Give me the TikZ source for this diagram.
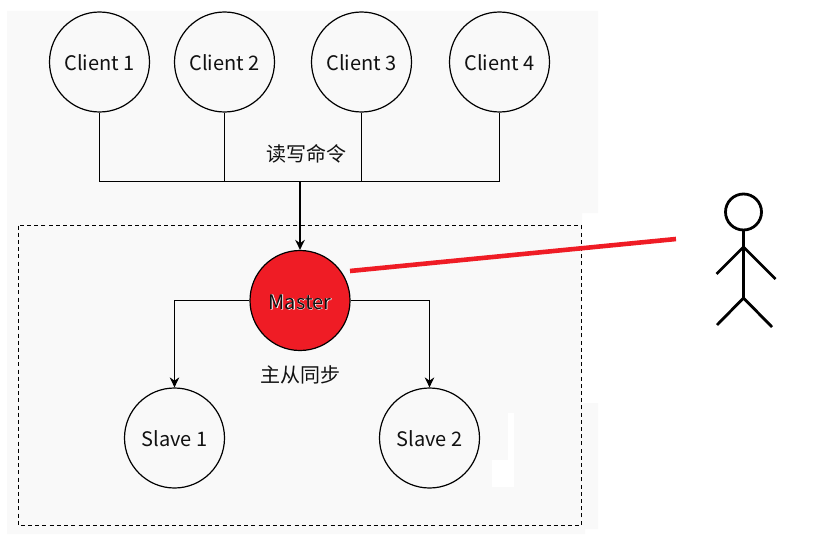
\documentclass[tikz,border=0pt]{standalone}
\usepackage{fontspec}
\setmainfont{Noto Sans CJK SC}
\newfontfamily\halofont[FakeBold=2]{Noto Sans CJK SC}
\usetikzlibrary{arrows.meta}
\definecolor{panel}{HTML}{F9F9F9}
\definecolor{redfill}{HTML}{EF1C25}
\definecolor{ink}{HTML}{111111}
\tikzset{
  x=1pt,y=-1pt,
  circ/.style={circle,draw=black,line width=1.2pt,minimum size=100pt,inner sep=0pt,text height=17.5pt,text depth=0pt,font=\fontsize{20}{24}\selectfont,text=ink,fill=panel},
  master/.style={circ,fill=redfill,text=ink},
  conn/.style={draw=black,line width=1.2pt},
  arrow/.style={conn,-{Stealth[length=10pt,width=9.5pt]}},
  thickarrow/.style={arrow,line width=1.8pt},
  lab/.style={font=\fontsize{20}{24}\selectfont,text=ink,inner sep=0pt},
  figure/.style={draw=black,line width=2.8pt},
}
\begin{document}
\begin{tikzpicture}
\useasboundingbox (0,0) rectangle (825,551);
% background panel with its irregular cut-outs
\fill[panel] (7,11) -- (598,11) -- (598,213) -- (582,213) -- (582,403) -- (598,403) -- (598,529) -- (585,529) -- (585,534) -- (7,534) -- cycle;
\fill[white] (508,413) rectangle (514,460);
\fill[white] (492,460) rectangle (514,487);
\draw[black,line width=1.2pt,dash pattern=on 4pt off 3.2pt] (18.5,225.5) rectangle (581.5,525.5);
% nodes
\node[circ] (c1) at (99.5,62) {Client 1};
\node[circ] (c2) at (224.5,62) {Client 2};
\node[circ] (c3) at (361.5,62) {Client 3};
\node[circ] (c4) at (499.5,62) {Client 4};
\node[master] (m) at (300,300.5) {\rlap{\color{white}\halofont Master}Master};
\node[circ] (s1) at (174.5,438) {Slave 1};
\node[circ] (s2) at (429.5,438) {Slave 2};
\node[lab] (l1) at (306,154) {读写命令};
\node[lab] (l2) at (300,375) {主从同步};
\coordinate (bus) at (300,181.5);
% connectors
\draw[conn] (c1.south) |- (bus);
\draw[conn] (c2.south) |- (bus);
\draw[conn] (c3.south) |- (bus);
\draw[conn] (c4.south) |- (bus);
\draw[thickarrow] (bus) -- (m.north);
\draw[arrow] (m.west) -| (s1.north);
\draw[arrow] (m.east) -| (s2.north);
% stick figure and red line
\coordinate (head) at (743.5,212);
\coordinate (neck) at (743.5,230);
\coordinate (shoulder) at (743.5,247);
\coordinate (hip) at (743.5,298);
\draw[figure] (head) circle (18);
\draw[figure] (neck) -- (hip);
\draw[figure] (716.5,274) -- (shoulder) -- (775.5,279);
\draw[figure] (717,325) -- (hip) -- (772,327);
\coordinate (redend) at (676,239);
\draw[redfill,line width=4.6pt] (350,271) -- (redend);
\end{tikzpicture}
\end{document}
